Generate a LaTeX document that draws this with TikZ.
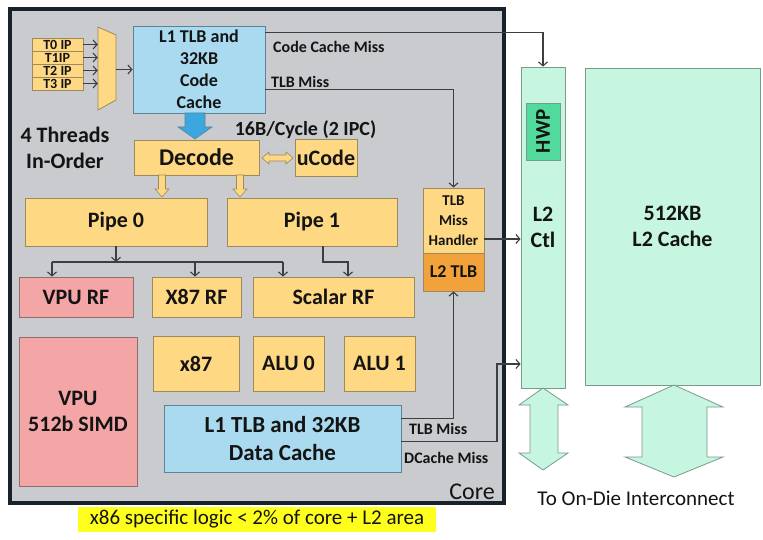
\documentclass[tikz,border=0pt]{standalone}
\usepackage{fontspec}
\setmainfont{Carlito}
\usetikzlibrary{arrows.meta,calc}
\definecolor{coregray}{HTML}{C9CBCF}
\definecolor{coreedge}{HTML}{17222C}
\definecolor{orng}{HTML}{FFD883}
\definecolor{orngedge}{HTML}{9C8A5E}
\definecolor{dorng}{HTML}{F2A23A}
\definecolor{blu}{HTML}{A9DAF0}
\definecolor{bluedge}{HTML}{5E8398}
\definecolor{pnk}{HTML}{F4A6A6}
\definecolor{pnkedge}{HTML}{8E6E6E}
\definecolor{mint}{HTML}{C6F6E0}
\definecolor{mintedge}{HTML}{7A9A8C}
\definecolor{hwpg}{HTML}{52DA9C}
\definecolor{linec}{HTML}{3A3F44}
\definecolor{txt}{HTML}{141414}
\definecolor{ban}{HTML}{FFFF1E}
\definecolor{arrblue}{HTML}{3BA7DF}
\begin{document}
\begin{tikzpicture}[x=1pt,y=-1pt,
  box/.style={draw=orngedge, line width=0.8pt, inner sep=0pt, align=center, text=txt},
  wh/.style 2 args={minimum width=#1pt, minimum height=#2pt},
  ob/.style={box, fill=orng},
  bb/.style={box, fill=blu, draw=bluedge},
  pb/.style={box, fill=pnk, draw=pnkedge},
  mb/.style={box, fill=mint, draw=mintedge},
  fbig/.style={font=\bfseries\fontsize{22}{26}\selectfont},
  fmid/.style={font=\bfseries\fontsize{18}{22}\selectfont},
  fsm/.style={font=\bfseries\fontsize{16}{18}\selectfont},
  conn/.style={draw=linec, line width=1.1pt, -{Straight Barb[length=4pt,width=9pt]}},
  plain/.style={draw=linec, line width=1.1pt},
  lab/.style={inner sep=0pt, text=txt}]
\useasboundingbox (0,0) rectangle (763,540);
\fill[white] (0,0) rectangle (763,540);

% core
\node[draw=coreedge, fill=coregray, line width=3.5pt, wh={494}{494}, inner sep=0pt] (core) at (257,256) {};
\node[lab, font=\fontsize{24}{26}\selectfont, anchor=east] (corelab) at (495,492) {Core};

% thread IPs
\node[ob, wh={51}{13}, font=\bfseries\fontsize{14}{13}\selectfont] (ip0) at (57.5,44.5) {T0 IP};
\node[ob, wh={51}{13}, font=\bfseries\fontsize{14}{13}\selectfont] (ip1) at (57.5,57.5) {T1IP};
\node[ob, wh={51}{13}, font=\bfseries\fontsize{14}{13}\selectfont] (ip2) at (57.5,70.5) {T2 IP};
\node[ob, wh={51}{13}, font=\bfseries\fontsize{14}{13}\selectfont] (ip3) at (57.5,83.5) {T3 IP};

% mux
\filldraw[fill=orng, draw=orngedge, line width=0.8pt] (98,27) -- (116,35) -- (116,100) -- (98,110) -- cycle;
\node[inner sep=0pt, wh={18}{83}] (mux) at (107,68.5) {};
\foreach \i in {0,1,2,3} \draw[conn] (ip\i.east) -- (ip\i -| mux.west);

% code cache
\node[bb, wh={132}{87}, fmid] (code) at (199,69.5) {L1 TLB and\\32KB\\Code\\Cache};
\draw[conn] (mux.east |- code.west) -- (code.west);

\node[lab, fbig, align=center] (threads) at (65,147.5) {4 Threads\\In-Order};

% blue arrow
\filldraw[fill=arrblue, draw=bluedge, line width=0.6pt] (185,113) -- (205,113) -- (205,127) -- (212,127) -- (195,139) -- (178,127) -- (185,127) -- cycle;

% decode, ucode
\node[ob, wh={125}{35}, font=\bfseries\fontsize{24}{26}\selectfont] (decode) at (196.5,157.5) {Decode};
\node[ob, wh={62}{37}, fbig] (ucode) at (326,157.5) {uCode};
\node[lab, font=\bfseries\fontsize{20}{22}\selectfont] (bw) at (305.5,130) {16B/Cycle (2 IPC)};
\filldraw[fill=orng, draw=orngedge, line width=0.6pt] (262,158) -- (269,152) -- (269,155) -- (286,155) -- (286,152) -- (293,158) -- (286,164) -- (286,161) -- (269,161) -- (269,164) -- cycle;

\foreach \x in {162,240}
  \filldraw[fill=orng, draw=orngedge, line width=0.6pt] (\x-3.5,175) -- (\x+3.5,175) -- (\x+3.5,189) -- (\x+7,189) -- (\x,197) -- (\x-7,189) -- (\x-3.5,189) -- cycle;

% pipes
\node[ob, wh={182}{48}, fbig] (pipe0) at (116,222) {Pipe 0};
\node[ob, wh={170}{48}, fbig] (pipe1) at (312,222) {Pipe 1};

% register files
\node[pb, wh={114}{40}, fbig] (vpurf) at (76,297) {VPU RF};
\node[ob, wh={89}{40}, fbig] (x87rf) at (196.5,297) {X87 RF};
\node[ob, wh={161}{40}, fbig] (scalarrf) at (333.5,297) {Scalar RF};

\coordinate (fan) at (116,262);
\coordinate (fanL) at (52,262);
\coordinate (fanM) at (195,262);
\coordinate (fanR) at (283,262);
\coordinate (p1turn) at (348,262);
\draw[conn] (pipe0.south) -- (fan);
\draw[plain] (fanL) -- (fanR);
\draw[conn] (fanL) -- (fanL |- vpurf.north);
\draw[conn] (fanM) -- (fanM |- x87rf.north);
\draw[conn] (fanR) -- (fanR |- scalarrf.north);
\draw[conn] ([xshift=11pt]pipe1.south) |- (p1turn) -- (p1turn |- scalarrf.north);

% TLB miss handler
\node[ob, wh={61}{65}, font=\bfseries\fontsize{15}{20}\selectfont] (handler) at (453.5,220.5) {TLB\\Miss\\Handler};
\node[box, fill=dorng, wh={61}{38}, font=\bfseries\fontsize{18}{20}\selectfont] (l2tlb) at (453.5,272) {L2 TLB};

% execution units
\node[pb, wh={118}{149}, fbig] (vpu) at (78,411.5) {VPU\\512b SIMD};
\node[ob, wh={86}{55}, fbig] (x87) at (196,363.5) {x87};
\node[ob, wh={71}{55}, fbig] (alu0) at (288.5,363.5) {ALU 0};
\node[ob, wh={71}{55}, fbig] (alu1) at (379.5,363.5) {ALU 1};
\node[bb, wh={237}{67}, font=\bfseries\fontsize{23}{28}\selectfont] (dcache) at (282.5,438.5) {L1 TLB and 32KB\\Data Cache};

% L2
\node[mb, wh={44}{321}, fbig] (l2ctl) at (543,227.5) {L2\\Ctl};
\node[box, fill=hwpg, draw=mintedge, rotate=90, wh={57}{34}, font=\bfseries\fontsize{21}{22}\selectfont] (hwp) at (543,131.5) {HWP};
\node[mb, wh={175}{317}, fbig] (l2) at (672.5,226.5) {512KB\\L2 Cache};

% connectors
\draw[conn] ([yshift=-7pt]code.north east) -| (l2ctl.north);
\draw[conn] ([yshift=-64pt]code.north east) -| (handler.north);
\node[lab, fsm, anchor=west] (ccm) at (273,47) {Code Cache Miss};
\node[lab, fsm, anchor=west] (tlbm1) at (271,82) {TLB Miss};
\draw[conn] ([yshift=-18.5pt]handler.east) -- ([yshift=-18.5pt]handler.east -| l2ctl.west);
\draw[conn] ([yshift=-14pt]dcache.north east) -| (l2tlb.south);
\coordinate (dmc) at (497,364);
\draw[conn] ([yshift=-37pt]dcache.north east) -| (dmc) -- (dmc -| l2ctl.west);
\node[lab, fsm, anchor=west] (tlbm2) at (409,429) {TLB Miss};
\node[lab, fsm, anchor=west] (dcm) at (404,458) {DCache Miss};

% interconnect arrows
\filldraw[fill=mint, draw=mintedge, line width=0.8pt] (543,388) -- (568,405) -- (558,405) -- (558,453) -- (568,453) -- (543,470) -- (519,453) -- (530,453) -- (530,405) -- (519,405) -- cycle;
\filldraw[fill=mint, draw=mintedge, line width=0.8pt] (674,385) -- (723,407) -- (707,407) -- (707,457) -- (723,457) -- (674,477) -- (625,457) -- (642,457) -- (642,407) -- (625,407) -- cycle;
\node[lab, font=\fontsize{21}{24}\selectfont] (odi) at (636,498) {To On-Die Interconnect};

% banner
\node[fill=ban, wh={358}{25}, inner sep=0pt, text=txt, font=\fontsize{21}{24}\selectfont] (banner) at (257,519.5) {x86 specific logic < 2\% of core + L2 area};
\end{tikzpicture}
\end{document}
